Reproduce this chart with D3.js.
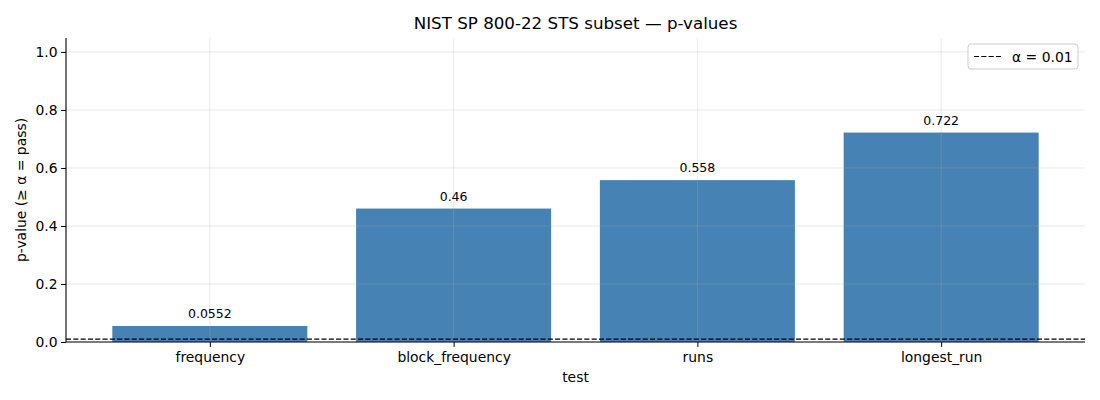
<!DOCTYPE html>
<html>
<head>
<meta charset="utf-8">
<script src="https://cdn.jsdelivr.net/npm/d3@7"></script>
<style>
  body { margin: 0; background: #fff; }
  svg { font-family: "DejaVu Sans", sans-serif; }
</style>
</head>
<body>
<svg id="chart" width="1100" height="400"></svg>
<script>
// data
const tests = ['frequency', 'block_frequency', 'runs', 'longest_run'];
const pValues = [0.0552, 0.46, 0.558, 0.722];
const pLabels = ['0.0552', '0.46', '0.558', '0.722'];
const yTicks = [0.0, 0.2, 0.4, 0.6, 0.8, 1.0];
const alpha = 0.01;

const svg = d3.select('#chart');
const m = { left: 66, right: 1085, top: 38, bottom: 342 };

// matplotlib-like categorical positions: bar width 0.8, 5% margins
const x = d3.scaleLinear().domain([-0.59, tests.length - 1 + 0.59]).range([m.left, m.right]);
const y = d3.scaleLinear().domain([0, 1.048]).range([m.bottom, m.top]);
const barW = x(0.8) - x(0);

// bars
svg.append('g').selectAll('rect')
  .data(pValues)
  .join('rect')
  .attr('x', (d, i) => x(i) - barW / 2)
  .attr('y', d => y(d))
  .attr('width', barW)
  .attr('height', d => y(0) - y(d))
  .attr('fill', '#4682b4');

// grid sits on top of bars, faint
const grid = svg.append('g').attr('stroke', '#b0b0b0').attr('stroke-opacity', 0.35).attr('stroke-width', 0.8);
yTicks.forEach(t => {
  grid.append('line').attr('x1', m.left).attr('x2', m.right).attr('y1', y(t)).attr('y2', y(t));
});
tests.forEach((t, i) => {
  grid.append('line').attr('x1', x(i)).attr('x2', x(i)).attr('y1', m.top).attr('y2', m.bottom);
});

// alpha threshold
svg.append('line')
  .attr('x1', m.left).attr('x2', m.right)
  .attr('y1', y(alpha)).attr('y2', y(alpha))
  .attr('stroke', '#000').attr('stroke-width', 1.2)
  .attr('stroke-dasharray', '5.1,2.2');

// value labels
svg.append('g').selectAll('text')
  .data(pValues)
  .join('text')
  .attr('x', (d, i) => x(i))
  .attr('y', d => y(d) - 8)
  .attr('text-anchor', 'middle')
  .attr('font-size', 12.5)
  .attr('fill', '#000')
  .text((d, i) => pLabels[i]);

// axes
const yAxis = d3.axisLeft(y).tickValues(yTicks).tickFormat(d3.format('.1f')).tickSizeOuter(0).tickSize(4.9).tickPadding(3.5);
const gy = svg.append('g').attr('transform', `translate(${m.left},0)`).call(yAxis);
gy.select('.domain').attr('d', `M0,${m.top}V${m.bottom}`).attr('stroke-width', 1.1);
gy.selectAll('text').attr('font-size', 13.9).attr('fill', '#000').attr('font-family', '"DejaVu Sans", sans-serif');

const xAxis = d3.axisBottom(x).tickValues(d3.range(tests.length)).tickFormat(i => tests[i]).tickSizeOuter(0).tickSize(4.9).tickPadding(5);
const gx = svg.append('g').attr('transform', `translate(0,${m.bottom})`).call(xAxis);
gx.select('.domain').attr('d', `M${m.left},0H${m.right}`).attr('stroke-width', 1.1);
gx.selectAll('text').attr('font-size', 13.9).attr('fill', '#000').attr('font-family', '"DejaVu Sans", sans-serif');

// titles
svg.append('text').attr('x', (m.left + m.right) / 2).attr('y', 29)
  .attr('text-anchor', 'middle').attr('font-size', 16.7).text('NIST SP 800-22 STS subset — p-values');
svg.append('text').attr('x', (m.left + m.right) / 2).attr('y', 382)
  .attr('text-anchor', 'middle').attr('font-size', 13.9).text('test');
svg.append('text').attr('transform', `translate(26,${(m.top + m.bottom) / 2}) rotate(-90)`)
  .attr('text-anchor', 'middle').attr('font-size', 13.9).text('p-value (≥ α = pass)');

// legend
const lg = svg.append('g').attr('transform', 'translate(968,44)');
lg.append('rect').attr('width', 110).attr('height', 25).attr('rx', 3)
  .attr('fill', '#fff').attr('fill-opacity', 0.8).attr('stroke', '#ccc');
lg.append('line').attr('x1', 6).attr('x2', 33).attr('y1', 12.5).attr('y2', 12.5)
  .attr('stroke', '#000').attr('stroke-width', 1.2).attr('stroke-dasharray', '5.1,2.2');
lg.append('text').attr('x', 44).attr('y', 17.5).attr('font-size', 13.9).text('α = 0.01');
</script>
</body>
</html>
